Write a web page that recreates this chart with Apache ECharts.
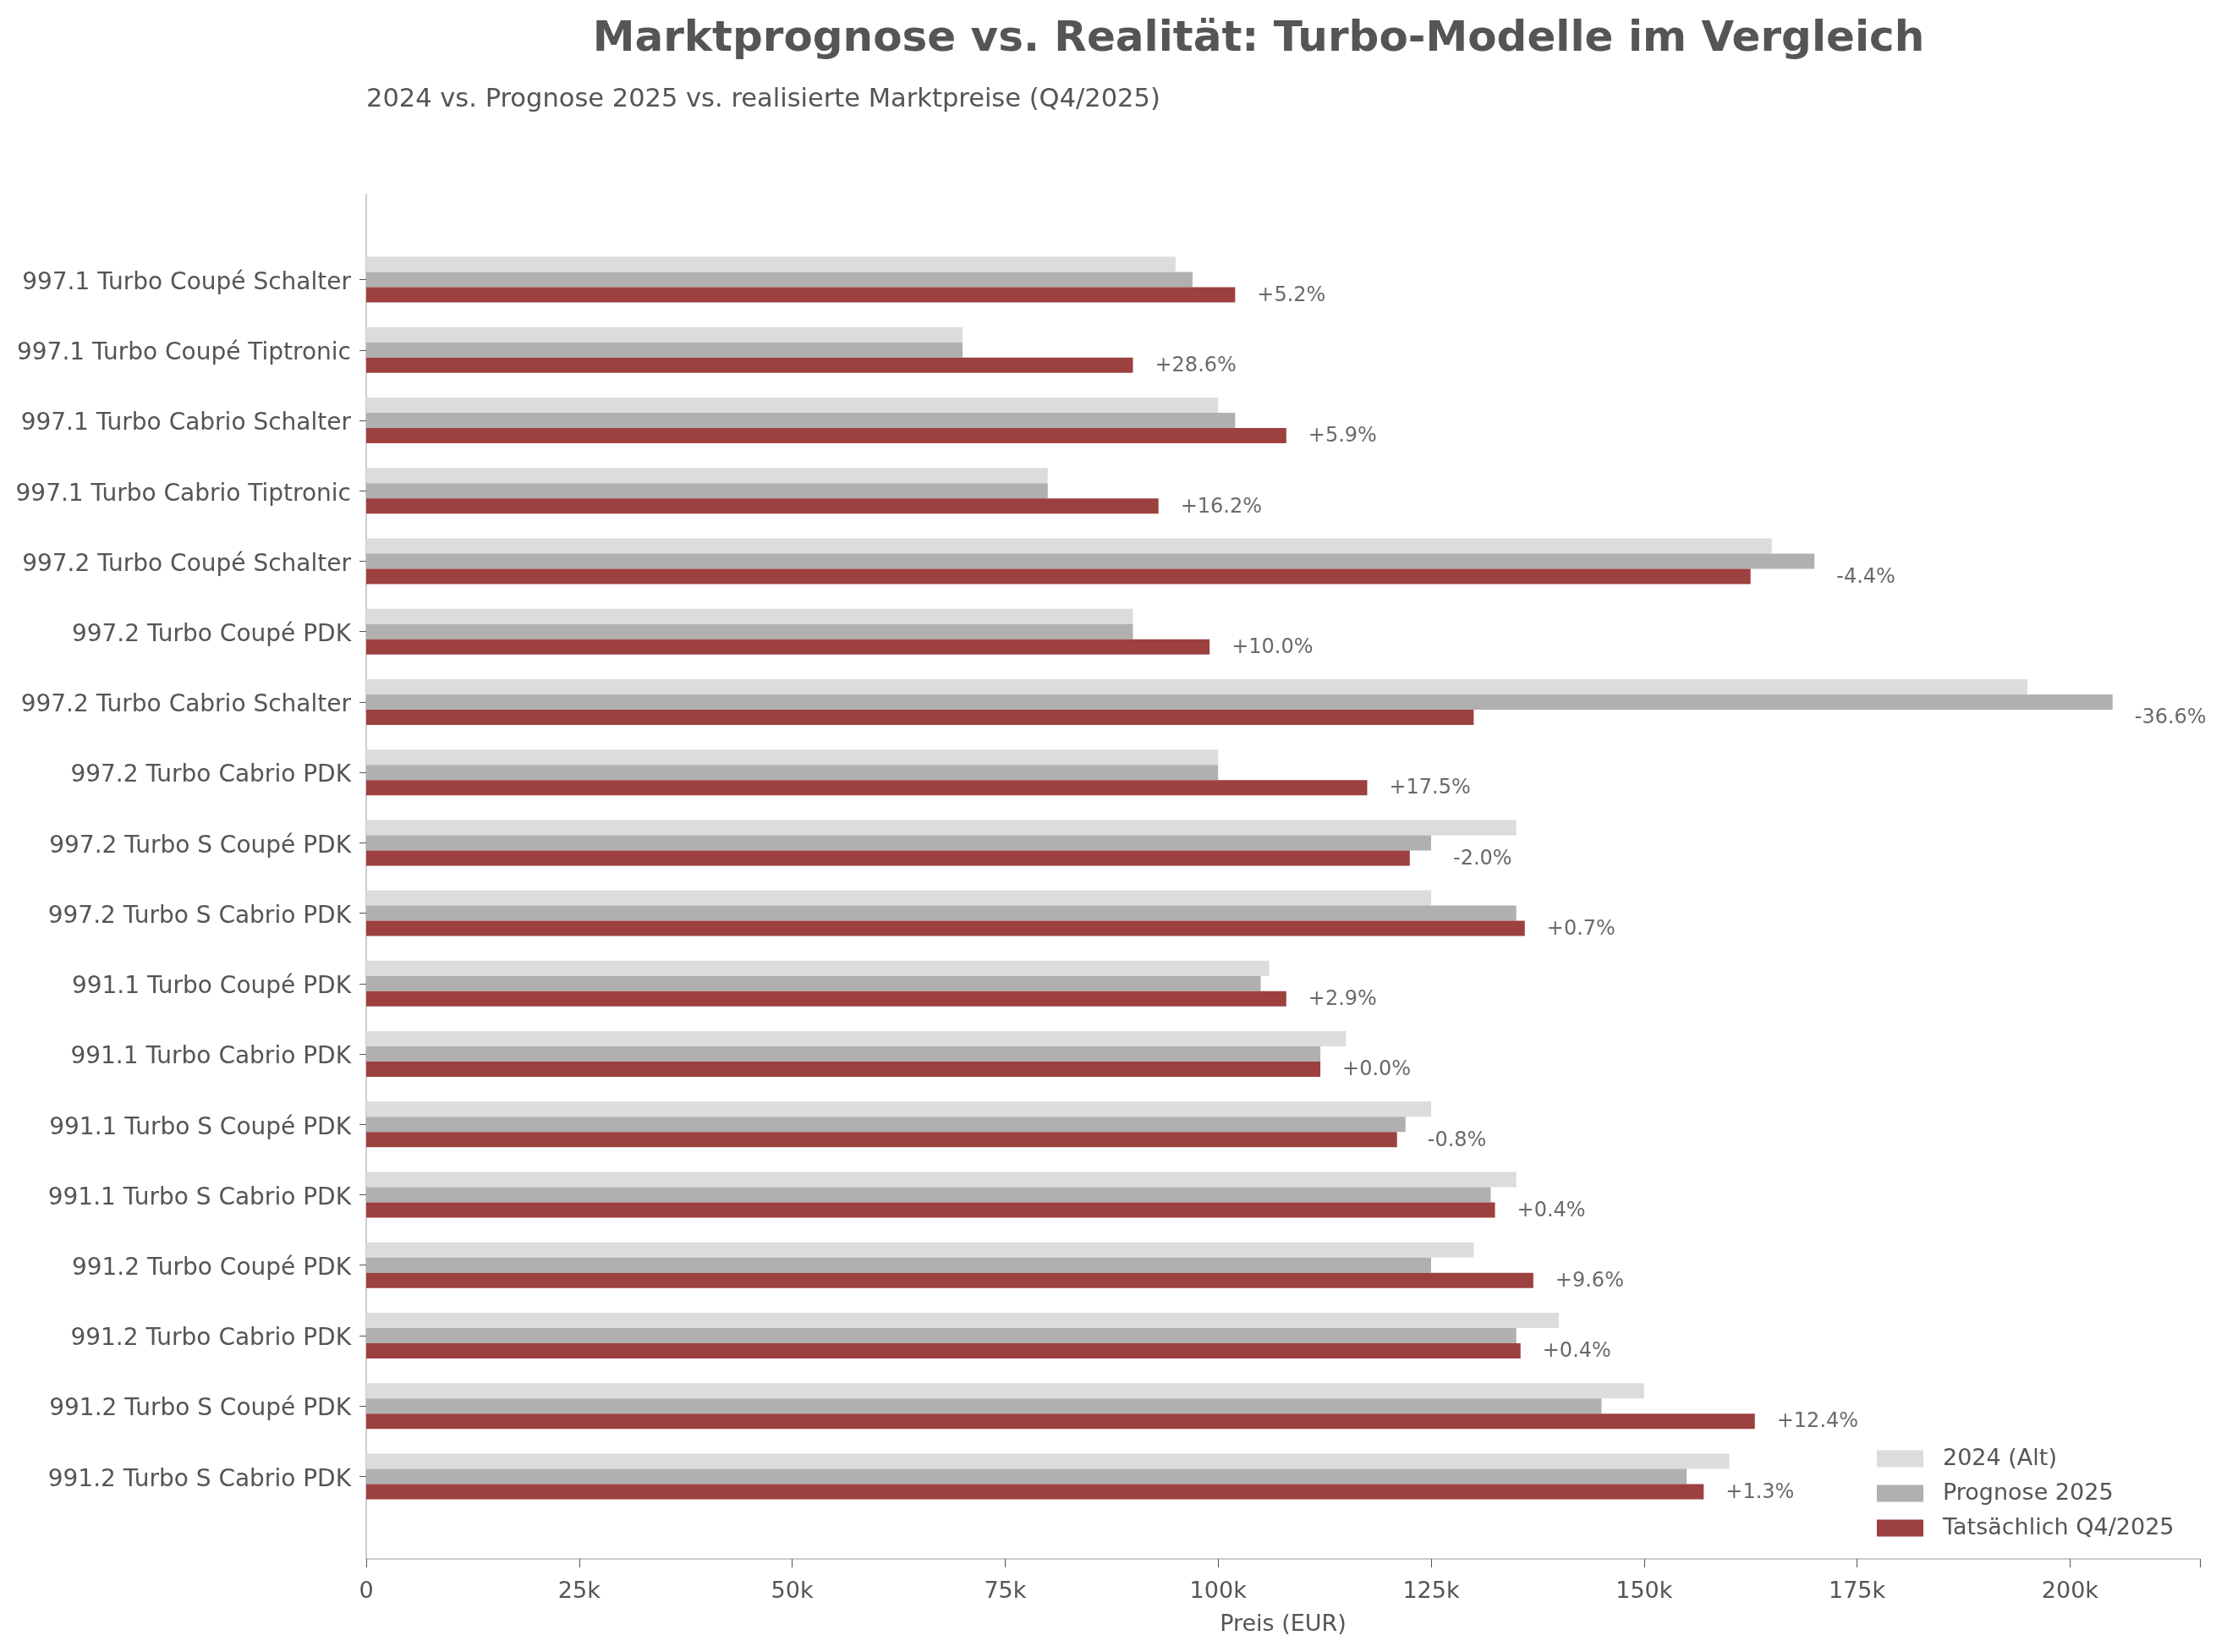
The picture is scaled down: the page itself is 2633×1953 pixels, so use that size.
<!DOCTYPE html>
<html>
<head>
<meta charset="utf-8">
<script src="https://cdn.jsdelivr.net/npm/echarts@6/dist/echarts.min.js"></script>
<style>
  html, body { margin: 0; padding: 0; background: #fff; }
  #chart { width: 2633px; height: 1953px; }
</style>
</head>
<body>
<div id="chart"></div>
<script>
// Modelle (von oben nach unten)
const categories = [
  "997.1 Turbo Coupé Schalter",
  "997.1 Turbo Coupé Tiptronic",
  "997.1 Turbo Cabrio Schalter",
  "997.1 Turbo Cabrio Tiptronic",
  "997.2 Turbo Coupé Schalter",
  "997.2 Turbo Coupé PDK",
  "997.2 Turbo Cabrio Schalter",
  "997.2 Turbo Cabrio PDK",
  "997.2 Turbo S Coupé PDK",
  "997.2 Turbo S Cabrio PDK",
  "991.1 Turbo Coupé PDK",
  "991.1 Turbo Cabrio PDK",
  "991.1 Turbo S Coupé PDK",
  "991.1 Turbo S Cabrio PDK",
  "991.2 Turbo Coupé PDK",
  "991.2 Turbo Cabrio PDK",
  "991.2 Turbo S Coupé PDK",
  "991.2 Turbo S Cabrio PDK"
];
const prices2024 = [95000, 70000, 100000, 80000, 165000, 90000, 195000, 100000, 135000, 125000,
  106000, 115000, 125000, 135000, 130000, 140000, 150000, 160000];
const forecast2025 = [97000, 70000, 102000, 80000, 170000, 90000, 205000, 100000, 125000, 135000,
  105000, 112000, 122000, 132000, 125000, 135000, 145000, 155000];
const actualQ4 = [102000, 90000, 108000, 93000, 162500, 99000, 130000, 117500, 122500, 136000,
  108000, 112000, 121000, 132500, 137000, 135500, 163000, 157000];
const xTicks = [0, 25000, 50000, 75000, 100000, 125000, 150000, 175000, 200000];

const seriesNames = ["2024 (Alt)", "Prognose 2025", "Tatsächlich Q4/2025"];
const textColor = "#555555";
const fontFamily = "DejaVu Sans";
const xMax = 215250;

// auf eine Nachkommastelle runden, .5 zur geraden Ziffer
function round1(x) {
  const n = Math.abs(x) * 10;
  let r = Math.round(n);
  if (n - Math.floor(n) === 0.5 && r % 2 !== 0) r -= 1;
  return Math.sign(x) * r / 10;
}

// Abweichung Tatsächlich vs. Prognose
const diffLabels = actualQ4.map((a, i) => {
  const p = round1((a - forecast2025[i]) / forecast2025[i] * 100);
  return (p >= 0 ? "+" : "") + p.toFixed(1) + "%";
});
const labelPos = actualQ4.map((a, i) => [Math.max(a, forecast2025[i]), i]);

const chart = echarts.init(document.getElementById("chart"));
chart.setOption({
  animation: false,
  backgroundColor: "#ffffff",
  textStyle: { fontFamily: fontFamily },
  title: [
    {
      text: "Marktprognose vs. Realität: Turbo-Modelle im Vergleich",
      left: 1483, top: 17, textAlign: "center",
      textStyle: { fontSize: 50, fontWeight: "bold", color: textColor, fontFamily: fontFamily }
    },
    {
      text: "2024 vs. Prognose 2025 vs. realisierte Marktpreise (Q4/2025)",
      left: 433, top: 103, padding: 0,
      textStyle: { fontSize: 30.5, fontWeight: "normal", color: textColor, fontFamily: fontFamily }
    }
  ],
  legend: {
    data: seriesNames,
    orient: "vertical",
    left: 2214, top: 1706,
    itemWidth: 55, itemHeight: 20, itemGap: 14,
    icon: "rect",
    textStyle: { fontSize: 27, color: textColor, padding: [0, 0, 0, 18] }
  },
  grid: [
    { left: 433, right: 32, top: 289, height: 1498 },
    { left: 433, right: 32, top: 230, height: 1613 }
  ],
  xAxis: [
    { gridIndex: 0, type: "value", min: 0, max: xMax, show: false },
    {
      gridIndex: 1, type: "value", min: 0, max: xMax, interval: 25000,
      axisLine: { show: true, lineStyle: { color: "#cccccc", width: 2 } },
      axisTick: { show: true, length: 10, lineStyle: { color: textColor } },
      splitLine: { show: false },
      axisLabel: {
        fontSize: 27, color: textColor, margin: 25,
        formatter: v => (xTicks.indexOf(v) < 0 ? "" : (v === 0 ? "0" : (v / 1000) + "k"))
      },
      name: "Preis (EUR)", nameLocation: "middle", nameGap: 64,
      nameTextStyle: { fontSize: 27, color: textColor }
    }
  ],
  yAxis: [
    {
      gridIndex: 0, type: "category", inverse: true, data: categories,
      axisLine: { show: false },
      axisTick: { show: true, alignWithLabel: true, length: 8, lineStyle: { color: textColor } },
      axisLabel: {
        margin: 18,
        formatter: v => "{c|" + v + "}",
        rich: { c: { fontSize: 28, color: textColor, fontFamily: fontFamily, padding: [8, 0, 0, 0] } }
      }
    },
    {
      gridIndex: 1, type: "value", min: 0, max: 1,
      axisLine: { show: true, lineStyle: { color: "#cccccc", width: 2 } },
      axisTick: { show: false }, axisLabel: { show: false }, splitLine: { show: false }
    }
  ],
  series: [
    {
      name: seriesNames[0], type: "bar", xAxisIndex: 0, yAxisIndex: 0,
      data: prices2024, barWidth: 18, barGap: "0%",
      itemStyle: { color: "#dcdcdc" }
    },
    {
      name: seriesNames[1], type: "bar", xAxisIndex: 0, yAxisIndex: 0,
      data: forecast2025, barWidth: 18, barGap: "0%",
      itemStyle: { color: "#b0b0b0" }
    },
    {
      name: seriesNames[2], type: "bar", xAxisIndex: 0, yAxisIndex: 0,
      data: actualQ4, barWidth: 18, barGap: "0%",
      itemStyle: { color: "#9c4040" }
    },
    {
      name: "Abweichung", type: "scatter", xAxisIndex: 0, yAxisIndex: 0,
      data: labelPos, symbolSize: 0, silent: true,
      label: {
        show: true, position: "right", distance: 26, offset: [0, 19],
        fontSize: 24, color: "#444444",
        formatter: p => diffLabels[p.dataIndex]
      }
    }
  ]
});
</script>
</body>
</html>
